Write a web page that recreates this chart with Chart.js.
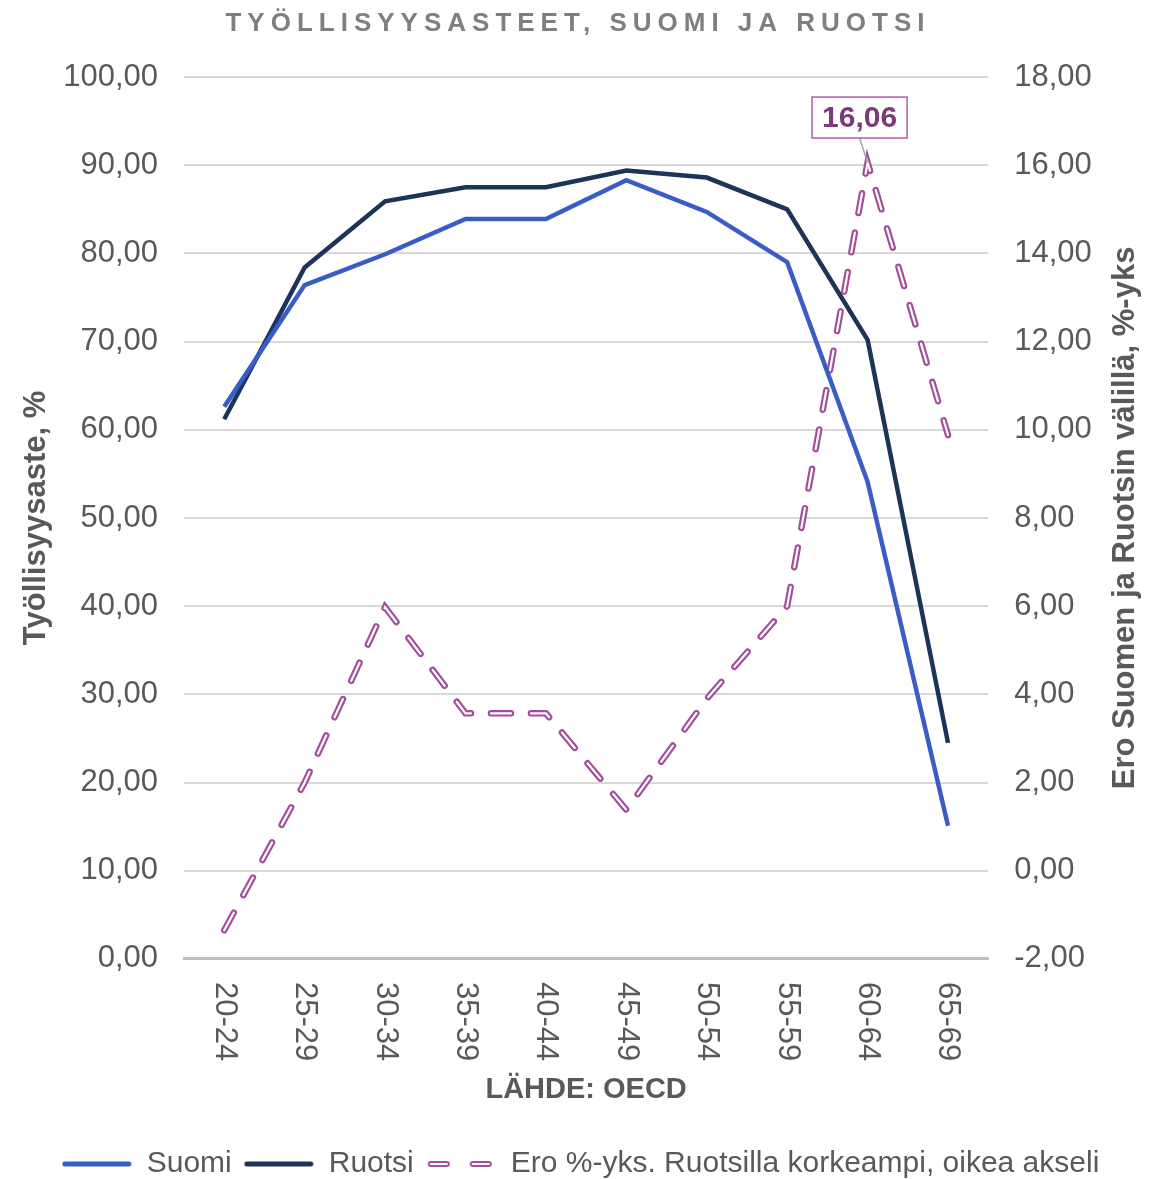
<!DOCTYPE html>
<html>
<head>
<meta charset="utf-8">
<script src="https://cdn.jsdelivr.net/npm/chart.js@4.4.1/dist/chart.umd.min.js"></script>
<style>
  html, body { margin: 0; padding: 0; background: #fff; }
  #wrap { width: 1161px; height: 1179px; }
</style>
</head>
<body>
<div id="wrap"><canvas id="c"></canvas></div>
<script>
const ageGroups = ['20-24', '25-29', '30-34', '35-39', '40-44', '45-49', '50-54', '55-59', '60-64', '65-69'];
const suomi = [62.6, 76.4, 79.9, 83.9, 83.9, 88.3, 84.7, 79.0, 54.1, 15.1];
const ruotsi = [61.2, 78.4, 85.9, 87.5, 87.5, 89.4, 88.6, 85.0, 70.2, 24.5];
const ero = [-1.35, 2.0, 5.98, 3.57, 3.57, 1.38, 3.9, 6.0, 16.06, 9.88];

const chartTitle = 'TYÖLLISYYSASTEET, SUOMI JA RUOTSI';
const leftTitle = 'Työllisyysaste, %';
const rightTitle = 'Ero Suomen ja Ruotsin välillä, %-yks';

const grey = '#595959';
const pink = '#a44d9c';
const blue = '#3a5cc6';
const navy = '#1c3459';
const font = 'Liberation Sans, Arial, sans-serif';
const fmt = v => v.toFixed(2).replace('.', ',');

// legend icons: solid line or two outlined pills
function legendIcon(color, dashed) {
  const c = document.createElement('canvas');
  c.width = 70;
  c.height = 10;
  const g = c.getContext('2d');
  g.lineCap = 'round';
  if (!dashed) {
    g.strokeStyle = color;
    g.lineWidth = 5;
    g.beginPath();
    g.moveTo(3, 5);
    g.lineTo(67, 5);
    g.stroke();
  } else {
    [[5, 21], [47, 63]].forEach(([a, b]) => {
      g.strokeStyle = color;
      g.lineWidth = 6;
      g.beginPath();
      g.moveTo(a, 5);
      g.lineTo(b, 5);
      g.stroke();
      g.strokeStyle = '#fff';
      g.lineWidth = 2.2;
      g.beginPath();
      g.moveTo(a, 5);
      g.lineTo(b, 5);
      g.stroke();
    });
  }
  return c;
}

// title with letter spacing, rotated x labels, axis titles and the 16,06 callout
const extras = {
  id: 'extras',
  afterDraw(chart) {
    const ctx = chart.ctx;
    const x = chart.scales.x;
    const y2 = chart.scales.y2;
    const area = chart.chartArea;
    const midY = (area.top + area.bottom) / 2;

    ctx.save();
    ctx.fillStyle = '#7f7f7f';
    ctx.font = 'bold 26px ' + font;
    ctx.letterSpacing = '6px';
    ctx.textAlign = 'center';
    ctx.textBaseline = 'middle';
    ctx.fillText(chartTitle, 578, 24);
    ctx.restore();

    ctx.save();
    ctx.fillStyle = grey;
    ctx.font = '31px ' + font;
    ctx.textAlign = 'left';
    ctx.textBaseline = 'middle';
    ageGroups.forEach((lab, i) => {
      ctx.save();
      ctx.translate(x.getPixelForTick(i), area.bottom + 23);
      ctx.rotate(Math.PI / 2);
      ctx.fillText(lab, 0, 0);
      ctx.restore();
    });
    ctx.restore();

    ctx.save();
    ctx.fillStyle = grey;
    ctx.font = 'bold 31px ' + font;
    ctx.textAlign = 'center';
    ctx.textBaseline = 'middle';
    ctx.save();
    ctx.translate(36, midY);
    ctx.rotate(-Math.PI / 2);
    ctx.fillText(leftTitle, 0, 0);
    ctx.restore();
    ctx.translate(1125, midY);
    ctx.rotate(-Math.PI / 2);
    ctx.fillText(rightTitle, 0, 0);
    ctx.restore();

    let mi = 0;
    ero.forEach((v, i) => { if (v > ero[mi]) mi = i; });
    const px = x.getPixelForValue(mi);
    const py = y2.getPixelForValue(ero[mi]);
    const label = fmt(ero[mi]);
    ctx.save();
    ctx.font = 'bold 30px ' + font;
    const w = ctx.measureText(label).width + 20;
    const h = 41;
    const cx = px - 8, cy = py - 45;
    ctx.strokeStyle = '#a6a6a6';
    ctx.lineWidth = 1.5;
    ctx.beginPath();
    ctx.moveTo(cx, cy + h / 2);
    ctx.lineTo(px, py);
    ctx.stroke();
    ctx.fillStyle = '#fff';
    ctx.fillRect(cx - w / 2, cy - h / 2, w, h);
    ctx.strokeStyle = '#b45cae';
    ctx.lineWidth = 1.5;
    ctx.strokeRect(cx - w / 2, cy - h / 2, w, h);
    ctx.fillStyle = '#7b3b78';
    ctx.textAlign = 'center';
    ctx.textBaseline = 'middle';
    ctx.fillText(label, cx, cy + 1);
    ctx.restore();
  }
};

new Chart(document.getElementById('c'), {
  type: 'line',
  plugins: [extras],
  data: {
    labels: ageGroups,
    datasets: [
      {
        label: 'Suomi',
        data: suomi,
        yAxisID: 'y',
        borderColor: blue,
        backgroundColor: blue,
        borderWidth: 4.5,
        pointRadius: 0,
        tension: 0
      },
      {
        label: 'Ruotsi',
        data: ruotsi,
        yAxisID: 'y',
        borderColor: navy,
        backgroundColor: navy,
        borderWidth: 4.5,
        pointRadius: 0,
        tension: 0
      },
      {
        label: 'inner',
        data: ero,
        yAxisID: 'y2',
        borderColor: '#ffffff',
        borderWidth: 2.2,
        borderDash: [20, 20],
        borderCapStyle: 'round',
        pointRadius: 0,
        tension: 0
      },
      {
        label: 'Ero %-yks. Ruotsilla korkeampi, oikea akseli',
        data: ero,
        yAxisID: 'y2',
        borderColor: pink,
        backgroundColor: '#ffffff',
        borderWidth: 6.5,
        borderDash: [20, 20],
        borderCapStyle: 'round',
        pointRadius: 0,
        tension: 0
      }
    ]
  },
  options: {
    responsive: true,
    maintainAspectRatio: false,
    animation: false,
    layout: {
      padding: { top: 77, left: 0, right: 0, bottom: -10 }
    },
    plugins: {
      title: { display: false },
      tooltip: { enabled: false },
      legend: {
        position: 'bottom',
        labels: {
          color: grey,
          font: { size: 30, family: font },
          usePointStyle: true,
          pointStyleWidth: 70,
          boxHeight: 10,
          padding: 12,
          filter: item => item.text !== 'inner',
          generateLabels(chart) {
            const items = Chart.defaults.plugins.legend.labels.generateLabels(chart);
            items.forEach(it => {
              const ds = chart.data.datasets[it.datasetIndex];
              it.pointStyle = legendIcon(ds.borderColor, !!ds.borderDash);
            });
            return items;
          }
        }
      }
    },
    scales: {
      x: {
        offset: true,
        grid: { display: false },
        border: { color: '#bfbfbf', width: 3 },
        ticks: {
          color: 'transparent',
          font: { size: 31, family: font },
          minRotation: 90,
          maxRotation: 90,
          padding: 13
        },
        title: {
          display: true,
          text: 'LÄHDE: OECD',
          color: grey,
          font: { size: 29, weight: 'bold', family: font },
          padding: { top: 0, bottom: 30 }
        }
      },
      y: {
        position: 'left',
        min: 0,
        max: 100,
        ticks: {
          stepSize: 10,
          color: grey,
          font: { size: 31, family: font },
          padding: 26,
          callback: v => fmt(v)
        },
        grid: { color: '#d9d9d9', lineWidth: 2, drawTicks: false },
        border: { display: false },
        title: {
          display: true,
          text: leftTitle,
          color: 'transparent',
          font: { size: 31, weight: 'bold', family: font },
          padding: { top: 0, bottom: 0 }
        }
      },
      y2: {
        position: 'right',
        min: -2,
        max: 18,
        ticks: {
          stepSize: 2,
          color: grey,
          font: { size: 31, family: font },
          padding: 26,
          callback: v => fmt(v)
        },
        grid: { display: false, drawTicks: false },
        border: { display: false },
        title: {
          display: true,
          text: rightTitle,
          color: 'transparent',
          font: { size: 31, weight: 'bold', family: font },
          padding: { top: 0, bottom: 6 }
        }
      }
    }
  }
});
</script>
</body>
</html>
